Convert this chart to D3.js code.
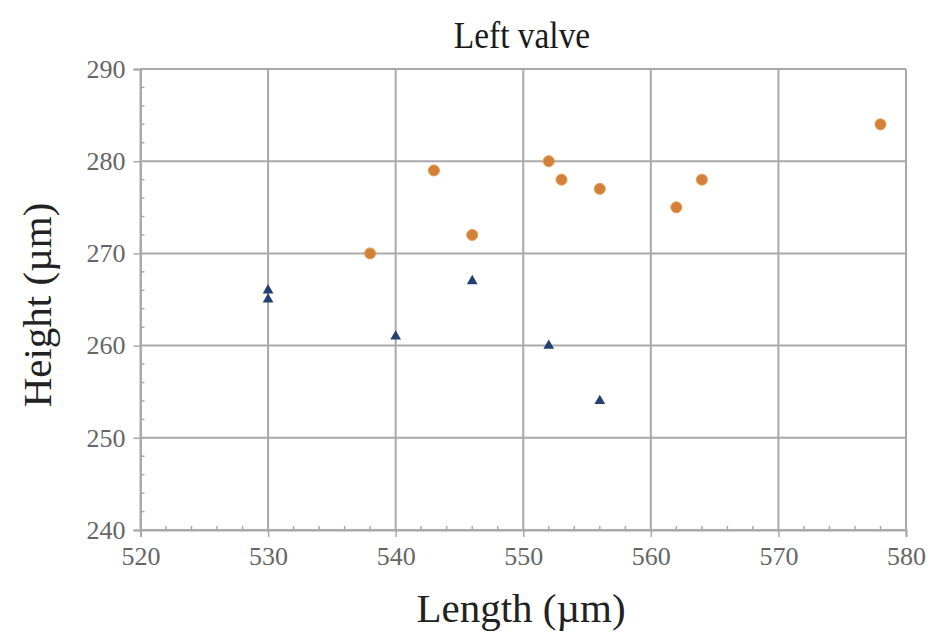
<!DOCTYPE html>
<html>
<head>
<meta charset="utf-8">
<script src="https://cdn.jsdelivr.net/npm/d3@7"></script>
<style>
  body { margin: 0; background: #fff; }
  svg { display: block; }
</style>
</head>
<body>
<div id="grafico"></div>
<script>
// Dados
const circLength = [538, 543, 546, 552, 553, 556, 562, 564, 578];
const circHeight = [270, 279, 272, 280, 278, 277, 275, 278, 284];
const triLength = [530, 530, 540, 546, 552, 556];
const triHeight = [266, 265, 261, 267, 260, 254];

const xTicks = [520, 530, 540, 550, 560, 570, 580];
const yTicks = [240, 250, 260, 270, 280, 290];

const width = 938, height = 644;
const plot = { left: 140.5, right: 906, top: 69, bottom: 530 };

const svg = d3.select("#grafico")
  .append("svg")
  .attr("width", width)
  .attr("height", height);

const x = d3.scaleLinear().domain([520, 580]).range([plot.left, plot.right]);
const y = d3.scaleLinear().domain([240, 290]).range([plot.bottom, plot.top]);

const gridColor = "#a9a9a9";

// Grade
svg.append("g")
  .selectAll("line")
  .data(xTicks)
  .join("line")
  .attr("x1", d => x(d)).attr("x2", d => x(d))
  .attr("y1", plot.top).attr("y2", plot.bottom)
  .attr("stroke", gridColor).attr("stroke-width", 2);

svg.append("g")
  .selectAll("line")
  .data(yTicks)
  .join("line")
  .attr("x1", plot.left).attr("x2", plot.right)
  .attr("y1", d => y(d)).attr("y2", d => y(d))
  .attr("stroke", gridColor).attr("stroke-width", 2);

// Eixos
const xAxis = svg.append("g")
  .attr("transform", `translate(0,${plot.bottom})`)
  .call(d3.axisBottom(x).tickValues(xTicks).tickSize(7).tickPadding(10).tickFormat(d => d));
const yAxis = svg.append("g")
  .attr("transform", `translate(${plot.left},0)`)
  .call(d3.axisLeft(y).tickValues(yTicks).tickSize(7).tickPadding(8).tickFormat(d => d));

[xAxis, yAxis].forEach(ax => {
  ax.select(".domain").attr("stroke", gridColor).attr("stroke-width", 2);
  ax.selectAll(".tick line").attr("stroke", gridColor).attr("stroke-width", 1.5);
  ax.selectAll(".tick text")
    .attr("fill", "#666")
    .style("font-family", "'Liberation Serif', 'Times New Roman', serif")
    .style("font-size", "26px");
});

// Marcas menores
const xMinor = d3.range(520, 580, 2).filter(d => d % 10 !== 0);
const yMinor = d3.range(240, 290, 2).filter(d => d % 10 !== 0);

svg.append("g")
  .selectAll("line")
  .data(xMinor)
  .join("line")
  .attr("x1", d => x(d)).attr("x2", d => x(d))
  .attr("y1", plot.bottom - 4).attr("y2", plot.bottom)
  .attr("stroke", gridColor).attr("stroke-width", 1.5);

svg.append("g")
  .selectAll("line")
  .data(yMinor)
  .join("line")
  .attr("x1", plot.left).attr("x2", plot.left + 4)
  .attr("y1", d => y(d)).attr("y2", d => y(d))
  .attr("stroke", gridColor).attr("stroke-width", 1.5);

// Pontos
const circData = circLength.map((d, i) => ({ x: d, y: circHeight[i] }));
const triData = triLength.map((d, i) => ({ x: d, y: triHeight[i] }));

svg.append("g")
  .selectAll("circle")
  .data(circData)
  .join("circle")
  .attr("cx", d => x(d.x))
  .attr("cy", d => y(d.y))
  .attr("r", 5.5)
  .attr("fill", "#d2803a")
  .attr("stroke", "#e89a4c")
  .attr("stroke-width", 1);

const triangle = d3.symbol().type(d3.symbolTriangle).size(50);
svg.append("g")
  .selectAll("path")
  .data(triData)
  .join("path")
  .attr("transform", d => `translate(${x(d.x)},${y(d.y)})`)
  .attr("d", triangle)
  .attr("fill", "#243f73");

// Títulos
const serif = "'Liberation Serif', 'Times New Roman', serif";

// título um pouco condensado, como no original
svg.append("text")
  .attr("transform", "translate(522,48) scale(0.88,1)")
  .attr("text-anchor", "middle")
  .attr("fill", "#1a1a1a")
  .style("font-family", serif)
  .style("font-size", "38px")
  .text("Left valve");

svg.append("text")
  .attr("x", 521).attr("y", 622)
  .attr("text-anchor", "middle")
  .attr("fill", "#222")
  .style("font-family", serif)
  .style("font-size", "41px")
  .text("Length (µm)");

svg.append("text")
  .attr("transform", "translate(51,305) rotate(-90)")
  .attr("text-anchor", "middle")
  .attr("fill", "#222")
  .style("font-family", serif)
  .style("font-size", "41px")
  .text("Height (µm)");
</script>
</body>
</html>
